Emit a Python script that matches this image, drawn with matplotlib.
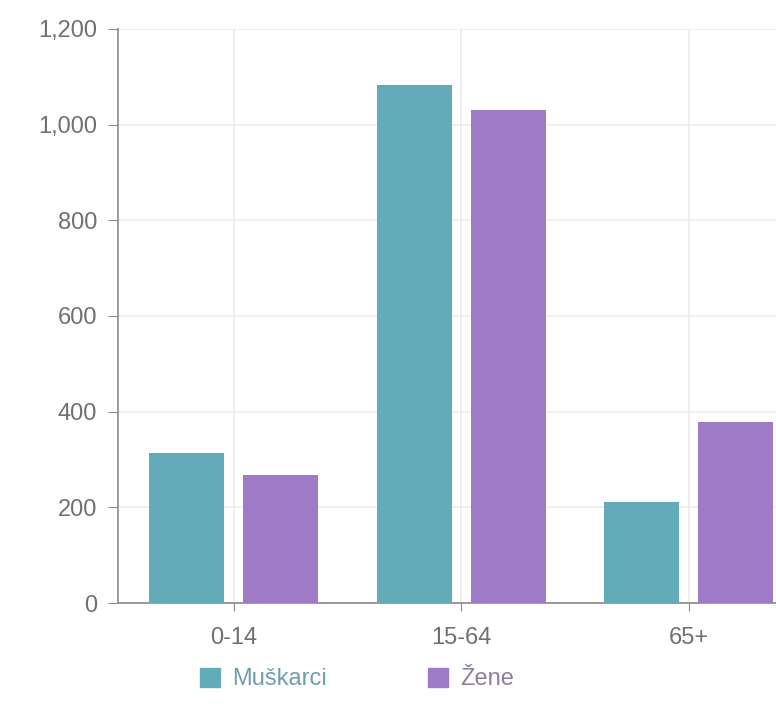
import matplotlib.pyplot as plt
import numpy as np
from matplotlib.patches import Patch

plt.rcParams["font.family"] = ["Liberation Sans", "DejaVu Sans"]

# data
age_groups = ["0-14", "15-64", "65+"]
muskarci = [314, 1083, 211]
zene = [268, 1031, 379]
series_names = ["Muškarci", "Žene"]
y_ticks = [0, 200, 400, 600, 800, 1000, 1200]

teal = "#63abb9"
purple = "#9e7ac7"
text_gray = "#707070"
font_size = 17

fig = plt.figure(figsize=(7.76, 7.17), dpi=100)
# the right edge of the plot runs past the figure, as in the reference crop
ax = fig.add_axes([118 / 776, 114 / 717, 684.5 / 776, 574 / 717])

x = np.arange(len(age_groups))
width = 0.33
offset = 0.207
ax.bar(x - offset, muskarci, width, color=teal, zorder=3)
ax.bar(x + offset, zene, width, color=purple, zorder=3)

ax.set_xlim(-0.5 - 2 / 227.5, 2.5)
ax.set_ylim(0, 1200)
ax.set_xticks(x)
ax.set_xticklabels(age_groups)
ax.set_yticks(y_ticks)
ax.set_yticklabels([f"{v:,}" for v in y_ticks])

ax.grid(True, color="#ececec", linewidth=1.2, zorder=0)
for side in ["top", "right"]:
    ax.spines[side].set_visible(False)
for side in ["left", "bottom"]:
    ax.spines[side].set_color("#8a8a8a")
    ax.spines[side].set_linewidth(1.2)

ax.tick_params(axis="y", length=7, color="#8a8a8a", labelcolor=text_gray,
               labelsize=font_size, pad=8)
ax.tick_params(axis="x", length=6, color="#8a8a8a", labelcolor=text_gray,
               labelsize=font_size, pad=11)

handles = [Patch(color=teal), Patch(color=purple)]
leg = fig.legend(handles, series_names, loc="center left",
                 bbox_to_anchor=(179 / 776, 1 - 679 / 717), ncol=2,
                 frameon=False, fontsize=font_size, handlelength=0.85,
                 handleheight=0.85, handletextpad=0.5, columnspacing=4.3)
for t, c in zip(leg.get_texts(), ["#6f9fad", "#8c7fa0"]):
    t.set_color(c)

fig.savefig("out.png", dpi=100)
